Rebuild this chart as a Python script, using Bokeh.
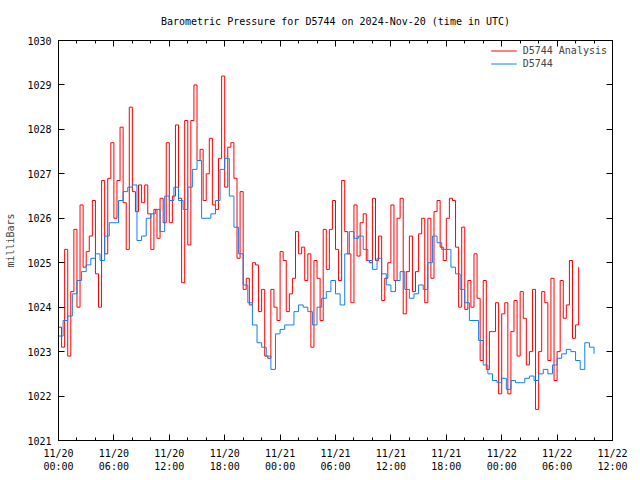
import pandas as pd
from bokeh.plotting import figure
from bokeh.models import (DatetimeAxis, LinearAxis, FixedTicker, DatetimeTickFormatter,
                          Range1d, Legend, LegendItem, BasicTickFormatter, CustomLabelingPolicy)
from bokeh.embed import file_html
from bokeh.resources import INLINE

TITLE = "Barometric Pressure for D5744 on 2024-Nov-20 (time in UTC)"
START = "2024-11-20 00:00"

# D5744 station observations, every 30 minutes from START
station_step_min = 30
station_mb = [
    1023.35, 1023.7, 1023.8, 1024.3, 1024.6, 1024.8, 1024.95, 1025.1, 1025.2, 1025.05,
    1025.6, 1025.9, 1025.9, 1026.4, 1026.6, 1026.7, 1026.75, 1025.5, 1025.6, 1026.0,
    1026.1, 1026.2, 1025.7, 1026.5, 1026.4, 1026.7, 1026.4, 1026.2, 1026.7, 1027.1,
    1027.3, 1026.0, 1026.0, 1026.1, 1026.4, 1027.1, 1027.35, 1026.5, 1025.8, 1025.2,
    1024.5, 1024.1, 1023.6, 1023.2, 1023.1, 1022.9, 1022.6, 1023.4, 1023.5, 1023.6,
    1023.6, 1023.9, 1024.05, 1024.0, 1023.9, 1023.6, 1024.0, 1024.2, 1024.35, 1024.6,
    1024.3, 1024.05, 1025.2, 1025.7, 1025.55, 1025.6, 1025.3, 1025.05, 1024.85, 1025.1,
    1024.75, 1024.5, 1024.35, 1024.6, 1024.8, 1024.4, 1024.2, 1024.3, 1024.5, 1024.4,
    1025.0, 1025.6, 1025.45, 1025.3, 1025.3, 1024.9, 1024.75, 1024.4, 1024.1, 1023.7,
    1023.7, 1023.25, 1022.7, 1022.5, 1022.35, 1022.3, 1022.4, 1022.15, 1022.35, 1022.3,
    1022.3, 1022.4, 1022.45, 1022.35, 1022.5, 1022.6, 1022.5, 1022.7, 1022.85, 1022.95,
    1023.05, 1023.0, 1022.8, 1022.6, 1023.2, 1023.1, 1022.95,
]

# D5744 Analysis, every 20 minutes from START
analysis_step_min = 20
analysis_mb = [
    1023.55, 1023.1, 1025.3, 1022.9, 1024.35, 1025.75, 1024.0, 1026.3, 1024.9, 1025.25,
    1025.6, 1026.4, 1024.75, 1024.0, 1026.85, 1025.2, 1026.9, 1027.7, 1026.0, 1026.85,
    1028.05, 1026.35, 1025.3, 1028.5, 1026.6, 1026.15, 1026.75, 1026.35, 1026.75, 1026.1,
    1025.3, 1026.2, 1025.55, 1026.45, 1025.9, 1027.7, 1025.9, 1026.5, 1028.1, 1026.45,
    1024.55, 1028.2, 1025.4, 1028.2, 1029.0, 1027.3, 1027.55, 1026.4, 1027.0, 1027.8,
    1026.3, 1026.2, 1027.35, 1029.2, 1026.7, 1027.6, 1027.7, 1026.9, 1025.1, 1026.6,
    1024.4, 1024.65, 1024.05, 1025.0, 1024.95, 1023.9, 1024.4, 1022.9, 1022.85, 1024.4,
    1024.0, 1023.7, 1025.25, 1025.05, 1023.9, 1024.3, 1024.65, 1025.7, 1025.2, 1025.35,
    1024.6, 1025.2, 1023.1, 1025.05, 1024.65, 1023.7, 1025.75, 1024.85, 1025.75, 1026.4,
    1025.3, 1024.6, 1026.85, 1025.7, 1025.2, 1024.1, 1026.3, 1025.15, 1025.9, 1026.1,
    1025.05, 1025.0, 1026.45, 1025.05, 1025.6, 1024.15, 1024.65, 1025.0, 1026.3, 1024.6,
    1026.0, 1026.45, 1023.85, 1024.8, 1025.6, 1024.35, 1024.8, 1025.65, 1026.0, 1024.1,
    1026.0, 1024.65, 1026.15, 1026.4, 1025.35, 1025.05, 1026.0, 1026.45, 1026.4, 1025.35,
    1024.0, 1025.8, 1023.95, 1024.6, 1024.0, 1025.2, 1024.2, 1022.8, 1024.6, 1022.6,
    1023.45, 1023.45, 1024.1, 1022.05, 1023.85, 1024.1, 1022.05, 1023.45, 1024.15, 1022.9,
    1024.35, 1023.75, 1022.7, 1023.0, 1024.4, 1021.7, 1023.0, 1024.35, 1024.1, 1022.8,
    1024.65, 1022.35, 1023.0, 1024.6, 1023.75, 1024.05, 1025.05, 1023.3, 1023.6, 1024.9,
]

x_span_hours = 60
x_major_hours = list(range(0, 61, 6))
x_minor_hours = list(range(0, 61, 2))
y_ticks = list(range(1021, 1031))

FONT = "DejaVu Sans Mono"
FS = "10px"
RED = "#ff0000"
BLUE = "#1080f0"

t0 = pd.Timestamp(START)
station_t = pd.date_range(t0, periods=len(station_mb), freq=f"{station_step_min}min")
analysis_t = pd.date_range(t0, periods=len(analysis_mb), freq=f"{analysis_step_min}min")


def ms(h):
    return (t0 + pd.Timedelta(hours=h)).value / 1e6


p = figure(width=640, height=480, output_backend="svg", toolbar_location=None,
           x_axis_type="datetime",
           x_range=Range1d(ms(0), ms(x_span_hours)),
           y_range=Range1d(y_ticks[0], y_ticks[-1]),
           min_border_left=58, min_border_right=28, min_border_top=40, min_border_bottom=40)

p.xgrid.visible = False
p.ygrid.visible = False
p.outline_line_color = "black"
p.outline_line_alpha = 1.0
p.background_fill_color = "white"
p.border_fill_color = "white"

p.title.text = TITLE
p.title.align = "center"
p.title.text_font = FONT
p.title.text_font_size = FS
p.title.text_font_style = "normal"
p.title.text_color = "black"
p.title.standoff = 15

xticker = FixedTicker(ticks=[ms(h) for h in x_major_hours], minor_ticks=[ms(h) for h in x_minor_hours])
yticker = FixedTicker(ticks=y_ticks, minor_ticks=[])
fmt_str = "%m/%d\n%H:%M"
xfmt = DatetimeTickFormatter(milliseconds=fmt_str, seconds=fmt_str, minsec=fmt_str, minutes=fmt_str,
                             hourmin=fmt_str, hours=fmt_str, days=fmt_str, months=fmt_str, years=fmt_str)


def style(ax, show_labels=True):
    ax.axis_line_color = "black"
    ax.major_tick_line_color = "black"
    ax.minor_tick_line_color = "black"
    ax.major_tick_in = 6
    ax.major_tick_out = 0
    ax.minor_tick_in = 3
    ax.minor_tick_out = 0
    ax.major_label_text_font = FONT
    ax.major_label_text_color = "black"
    if show_labels:
        ax.major_label_text_font_size = FS
    else:
        ax.major_label_text_font_size = "1px"
        ax.major_label_standoff = 0
        ax.major_label_policy = CustomLabelingPolicy(code="for (const i of indices) indices.unset(i)")


xa = p.xaxis[0]
xa.ticker = xticker
xa.formatter = xfmt
style(xa)
xa.major_label_standoff = 7

ya = p.yaxis[0]
ya.ticker = yticker
ya.formatter = BasicTickFormatter(use_scientific=False)
style(ya)
ya.major_label_standoff = 7
ya.axis_label = "milliBars"
ya.axis_label_text_font = FONT
ya.axis_label_text_font_size = FS
ya.axis_label_text_font_style = "normal"
ya.axis_label_standoff = 8

top = DatetimeAxis(ticker=xticker, formatter=xfmt)
style(top, show_labels=False)
p.add_layout(top, "above")

right = LinearAxis(ticker=yticker)
style(right, show_labels=False)
p.add_layout(right, "right")

r_an = p.step(analysis_t, analysis_mb, mode="after", line_color=RED, line_width=1)
r_st = p.step(station_t, station_mb, mode="after", line_color=BLUE, line_width=1)

legend = Legend(items=[LegendItem(label="D5744 Analysis", renderers=[r_an]),
                       LegendItem(label="D5744", renderers=[r_st])],
                location="top_right", margin=5, padding=4, spacing=2,
                label_height=11, glyph_height=11, glyph_width=26, label_standoff=6,
                label_text_font=FONT, label_text_font_size=FS,
                background_fill_alpha=0, border_line_color=None)
p.add_layout(legend)

open("out.html", "w").write(file_html(p, INLINE))
